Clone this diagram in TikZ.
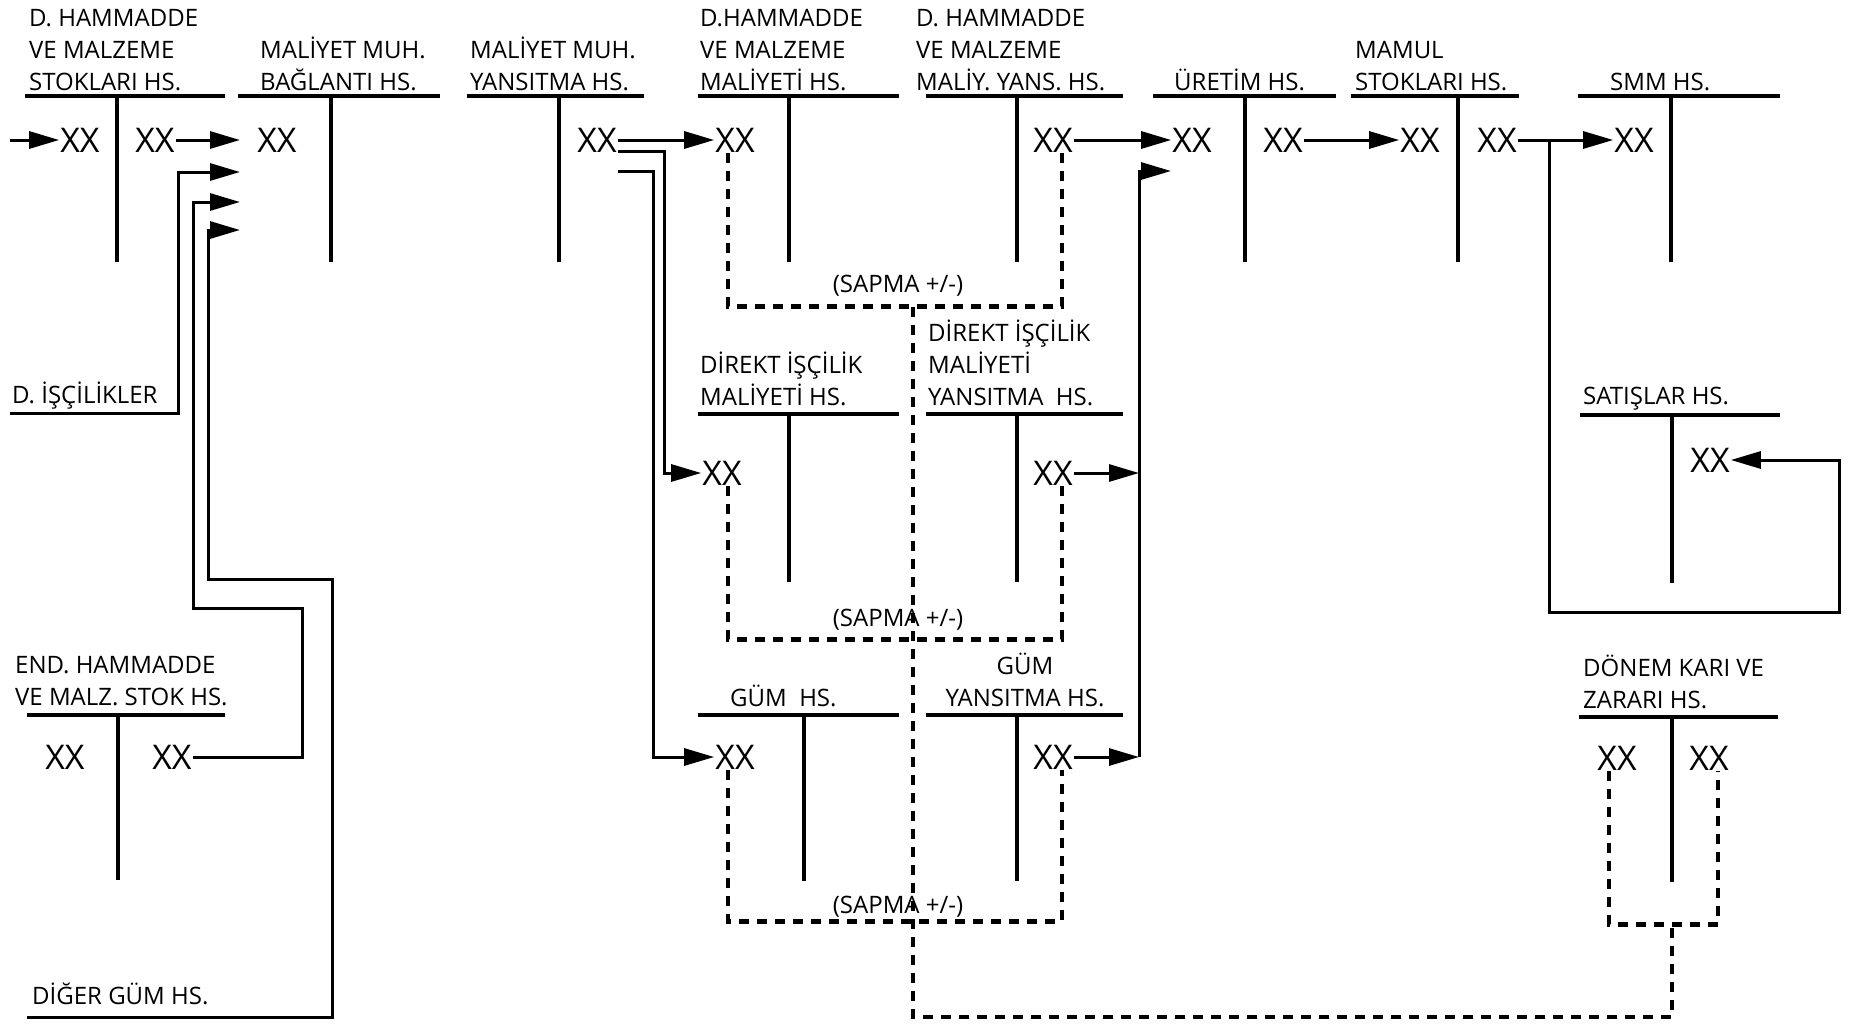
\documentclass[tikz,border=0pt]{standalone}
\usepackage{fontspec}
\setmainfont{Open Sans}
\usetikzlibrary{arrows.meta}

\tikzset{
  hesap/.style={anchor=south west, align=left, inner sep=0pt, text depth=0pt,
                font=\fontsize{24}{32}\selectfont},
  notu/.style={inner sep=0pt, font=\fontsize{24}{32}\selectfont},
  tutar/.style={inner sep=1pt, font=\fontsize{34}{36}\selectfont},
  tcizgi/.style={line width=3.5pt},
  akis/.style={line width=3pt, -{Triangle[length=30pt,width=17pt]}},
  sapma/.style={line width=4.5pt, dash pattern=on 10pt off 8pt},
}

\begin{document}
\begin{tikzpicture}[x=1pt, y=-1pt]
\useasboundingbox (0,0) rectangle (1854,1028);

% T hesaplar: sol x / sag x / dikey x / ust y / alt y
\foreach \xa/\xb/\xv/\ya/\yb in {25/225/117/96/262, 238/440/331/96/262, 467/644/559/96/262,
    698/899/789/96/262, 926/1123/1017/96/262, 1153/1336/1245/96/262, 1351/1519/1458/96/262,
    1578/1780/1671/96/262, 698/899/789/414/582, 926/1123/1017/414/582, 1580/1780/1672/415/583,
    27/225/118/715/880, 698/899/804/715/881, 926/1123/1017/715/881, 1579/1778/1672/717/882}
  \draw[tcizgi] (\xa,\ya) -- (\xb,\ya) (\xv,\ya) -- (\xv,\yb);

% hesap adlari
\node[hesap] (t-dhm) at (29,91) {D. HAMMADDE\\VE MALZEME\\STOKLARI HS.};
\node[hesap] (t-bag) at (260,91) {MALİYET MUH.\\BAĞLANTI HS.};
\node[hesap] (t-yan) at (470,91) {MALİYET MUH.\\YANSITMA HS.};
\node[hesap] (t-dhmm) at (700,91) {D.HAMMADDE\\VE MALZEME\\MALİYETİ HS.};
\node[hesap] (t-dhmy) at (916,91) {D. HAMMADDE\\VE MALZEME\\MALİY. YANS. HS.};
\node[hesap] (t-ure) at (1174,91) {ÜRETİM HS.};
\node[hesap] (t-mam) at (1355,91) {MAMUL\\STOKLARI HS.};
\node[hesap] (t-smm) at (1610,91) {SMM HS.};
\node[hesap] (t-isc) at (12,404) {D. İŞÇİLİKLER};
\node[hesap] (t-dim) at (700,406) {DİREKT İŞÇİLİK\\MALİYETİ HS.};
\node[hesap] (t-dimy) at (928,406) {DİREKT İŞÇİLİK\\MALİYETİ\\YANSITMA\ \ HS.};
\node[hesap] (t-sat) at (1583,405) {SATIŞLAR HS.};
\node[hesap] (t-end) at (15,706) {END. HAMMADDE\\VE MALZ. STOK HS.};
\node[hesap] (t-gum) at (730,707) {GÜM\ \ HS.};
\node[hesap, align=center, anchor=south] (t-gumy) at (1025,707) {GÜM\\YANSITMA HS.};
\node[hesap] (t-don) at (1583,709) {DÖNEM KARI VE\\ZARARI HS.};
\node[hesap] (t-dig) at (32,1005) {DİĞER GÜM HS.};

% tutarlar
\node[tutar] (a-l) at (80,140) {XX};
\node[tutar] (a-r) at (155,140) {XX};
\node[tutar] (b-l) at (277,140) {XX};
\node[tutar] (c-r) at (597,140) {XX};
\node[tutar] (d-l) at (735,140) {XX};
\node[tutar] (e-r) at (1053,140) {XX};
\node[tutar] (f-l) at (1192,140) {XX};
\node[tutar] (f-r) at (1283,140) {XX};
\node[tutar] (g-l) at (1420,140) {XX};
\node[tutar] (g-r) at (1497,140) {XX};
\node[tutar] (h-l) at (1634,140) {XX};
\node[tutar] (i-l) at (722,473) {XX};
\node[tutar] (j-r) at (1053,473) {XX};
\node[tutar] (n-r) at (1710,460) {XX};
\node[tutar] (end-l) at (65,757) {XX};
\node[tutar] (end-r) at (172,757) {XX};
\node[tutar] (k-l) at (735,757) {XX};
\node[tutar] (l-r) at (1053,757) {XX};
\node[tutar] (m-l) at (1617,758) {XX};
\node[tutar] (m-r) at (1709,758) {XX};

\node[notu] (sp1) at (898,286) {(SAPMA +/-)};
\node[notu] (sp2) at (898,620) {(SAPMA +/-)};
\node[notu] (sp3) at (898,907) {(SAPMA +/-)};

\coordinate (a-in) at (10,140);
\coordinate (b-in1) at (240,140);
\coordinate (b-in2) at (240,172);
\coordinate (b-in3) at (240,202);
\coordinate (b-in4) at (240,230);
\coordinate (isc-s) at (10,413);
\coordinate (dig-s) at (27,1017);
\coordinate (bus-t) at (1139,171);
\coordinate (bus-m) at (1139,473);
\coordinate (bus-b) at (1139,757);
\coordinate (f-in2) at (1171,171);
\coordinate (split) at (1549,140);
\coordinate (ret) at (1839,612);
\coordinate (dev-top) at (913,307);
\coordinate (dev-kz) at (1672,925);

% akislar
\draw[akis] (a-in) -- (a-l);
\draw[akis] (a-r) -- (b-in1);
\draw[akis] (isc-s) -- ++(168,0) |- (b-in2);
\draw[akis] (end-r) -| (302,608) -- (193,608) |- (b-in3);
\draw[akis] (dig-s) -| (332,579) -- (208,579) |- (b-in4);
\draw[akis] (c-r) -- (d-l);
\draw[akis] ([yshift=-11pt]c-r.east) -- ++(47,0) |- (i-l);
\draw[akis] ([yshift=-31pt]c-r.east) -- ++(36,0) |- (k-l);
\draw[akis] (e-r) -- (f-l);
\draw[akis] (f-r) -- (g-l);
\draw[akis] (g-r) -- (h-l);
\draw[akis] (j-r) -- (bus-m);
\draw[akis] (l-r) -- (bus-b);
\draw[akis] (bus-b) -- (bus-t) -- (f-in2);
\draw[akis] (split) |- (ret) |- (n-r);

% sapmalar
\draw[sapma] ([xshift=-7pt]d-l.south) -- ++(0,153) -| ([xshift=9pt]e-r.south);
\draw[sapma] ([xshift=6pt]i-l.south) -- ++(0,153) -| ([xshift=9pt]j-r.south);
\draw[sapma] ([xshift=-7pt]k-l.south) -- ++(0,151) -| ([xshift=9pt]l-r.south);
\draw[sapma] ([xshift=-8pt]m-l.south) -- ++(0,153) -| ([xshift=9pt]m-r.south);
\draw[sapma] (dev-top) -- ++(0,710) -| (dev-kz);
\end{tikzpicture}
\end{document}
